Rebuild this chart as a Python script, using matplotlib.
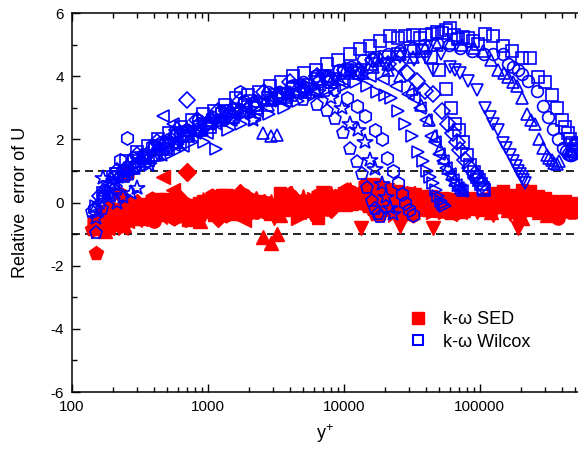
import matplotlib
matplotlib.use("Agg")
import matplotlib.pyplot as plt
from matplotlib.lines import Line2D
from matplotlib.ticker import LogLocator, NullFormatter, MultipleLocator, FuncFormatter

plt.rcParams['font.family'] = ['Liberation Sans', 'DejaVu Sans']
plt.rcParams['axes.unicode_minus'] = False
plt.rcParams['mathtext.fontset'] = 'custom'
plt.rcParams['mathtext.rm'] = 'Liberation Sans'
plt.rcParams['mathtext.default'] = 'regular'

# ---- data: y+ positions, relative error (Wilcox k-w, SED k-w) per case ----
pent_yp = [140, 150, 165, 185, 210, 245, 290, 350, 430, 530, 660, 830, 1050, 1350, 1750, 2300, 3000, 3900, 5000, 6300,
           7500, 8600, 9800, 11100, 12500, 13600, 14800, 16100, 16900, 17700, 18400]
pent_wilcox = [-0.3, -0.95, -0.2, 0.3, 0.45, 0.8, 1.1, 1.4, 1.65, 1.9, 2.1, 2.3, 2.5, 2.7, 2.9, 3.05, 3.2, 3.3, 3.25, 3.1,
               2.9, 2.65, 2.2, 1.7, 1.27, 0.9, 0.45, 0.06, -0.2, -0.35, -0.47]
pent_sed = [-0.85, -1.6, -0.7, -0.4, -0.55, -0.6, -0.3, -0.5, -0.2, -0.4, -0.1, -0.3, -0.2, 0.0, -0.35, -0.1, -0.25, 0.05, -0.2, 0.1,
            -0.05, 0.2, 0.1, 0.3, 0.15, 0.0, -0.1, -0.2, -0.35, -0.25, -0.4]

star_yp = [150, 169, 190, 214, 237, 270, 300, 370, 460, 580, 730, 920, 1160, 1460, 1850, 2140, 2900, 3800, 5000, 6500,
           8000, 9700, 11100, 12700, 14300, 15500, 16900, 19000, 20300, 21800, 22900]
star_wilcox = [-0.5, 0.76, 0.2, -0.03, 0.16, 0.3, 0.47, 1.2, 1.5, 1.8, 2.1, 2.3, 2.5, 2.6, 2.8, 2.6, 3.2, 3.4, 3.5, 3.5,
               3.3, 3.0, 2.5, 2.3, 1.9, 1.33, 1.07, 0.6, 0.16, -0.16, -0.35]
star_sed = [-0.9, -0.6, -0.75, -0.45, -0.8, -0.3, -0.55, -0.2, -0.45, -0.15, -0.35, 0.05, -0.25, -0.1, 0.1, -0.3, 0.0, -0.2, 0.15, -0.05,
            0.25, 0.05, 0.35, 0.2, 0.1, 0.3, 0.0, -0.15, -0.3, -0.2, -0.4]

hex_yp = [145, 170, 200, 225, 254, 290, 340, 385, 460, 560, 690, 860, 1080, 1350, 1720, 2200, 2900, 3800, 5000, 6500,
          8400, 10500, 12500, 14300, 16900, 19000, 20700, 22900, 24900, 26700, 28100, 30000, 32000]
hex_wilcox = [-0.2, 0.2, 0.6, 1.33, 2.05, 1.2, 1.4, 1.8, 1.9, 2.1, 2.3, 2.5, 2.7, 2.9, 3.5, 3.1, 3.3, 3.5, 3.7, 3.8,
              3.6, 3.3, 3.07, 2.75, 2.3, 2.0, 1.42, 1.0, 0.63, 0.28, -0.03, -0.25, -0.4]
hex_sed = [-0.6, -0.3, -0.5, 0.28, 0.9, -0.2, -0.45, 0.1, -0.3, -0.5, -0.05, -0.25, 0.2, -0.4, -0.1, 0.05, -0.3, 0.1, -0.15, 0.25,
           0.0, 0.4, 0.2, 0.55, 0.1, 0.3, 0.0, -0.1, -0.25, -0.15, -0.35, -0.2, -0.4]

rtri_yp = [150, 175, 205, 245, 290, 350, 420, 510, 620, 760, 930, 1140, 1400, 1750, 2200, 2800, 3600, 4600, 6000, 7800,
           10000, 12300, 14800, 17500, 20000, 22200, 25000, 28100, 31600, 35000, 38000, 40700, 43000, 45100, 47300, 49100,
           51500, 53500, 55300]
rtri_wilcox = [-0.1, 0.2, 0.5, 0.8, 1.0, 1.2, 1.4, 1.5, 1.7, 1.9, 1.9, 1.7, 2.3, 2.5, 2.6, 2.8, 3.0, 3.2, 3.4, 3.6,
               3.7, 3.8, 3.7, 3.5, 3.4, 3.3, 2.9, 2.5, 2.1, 1.6, 1.3, 1.0, 0.8, 0.63, 0.4, 0.2, 0.06, -0.05, -0.1]
rtri_sed = [-0.7, -0.4, -0.6, -0.2, -0.5, -0.3, 0.0, -0.35, -0.15, -0.55, -0.2, 0.05, -0.3, -0.1, 0.15, -0.25, 0.0, -0.5, 0.1, -0.1,
            0.2, 0.35, 0.05, 0.25, 0.55, 0.15, 0.3, 0.0, 0.2, -0.1, 0.1, -0.2, 0.05, -0.3, -0.1, -0.25, 0.0, -0.15, -0.3]

ltri_yp = [155, 180, 215, 255, 305, 365, 440, 470, 550, 660, 800, 980, 1200, 1480, 1850, 2300, 2900, 3700, 4700, 6000,
           7600, 9700, 12300, 15500, 19500, 24000, 29500, 33000, 36200, 40000, 43500, 46700, 50000, 53400, 56500, 60100,
           63500, 66500, 68900, 71500, 73800]
ltri_wilcox = [0.0, 0.3, 0.8, 0.9, 1.3, 1.3, 1.7, 2.75, 2.5, 1.8, 2.2, 2.2, 2.6, 2.6, 3.0, 2.9, 3.3, 3.2, 3.6, 3.5,
               3.9, 3.8, 4.1, 4.0, 3.9, 3.7, 3.45, 3.3, 3.0, 2.6, 2.1, 1.9, 1.55, 1.3, 1.1, 0.9, 0.7, 0.55, 0.45, 0.4, 0.35]
ltri_sed = [-0.5, -0.8, -0.3, -0.6, -0.1, -0.4, -0.2, 0.8, 0.4, -0.3, -0.05, -0.35, 0.1, -0.2, -0.55, 0.0, -0.15, 0.3, -0.3, 0.05,
            -0.1, 0.25, 0.1, 0.4, 0.2, 0.0, 0.3, 0.1, -0.1, 0.15, -0.2, 0.0, -0.3, 0.1, -0.15, -0.35, -0.05, -0.2, 0.0, -0.3, -0.1]

utri1_yp = [150, 175, 205, 240, 285, 340, 410, 490, 590, 720, 880, 1080, 1330, 1650, 2050, 2550, 2900, 3200, 4000, 5000,
            6300, 8000, 10200, 13000, 16500, 21000, 26000, 31500, 37000, 42000, 46500, 50500, 54500, 58500, 62500, 66000,
            69500, 72500, 75500]
utri1_wilcox = [-0.1, 0.4, 0.6, 1.1, 1.1, 1.5, 1.5, 1.9, 1.9, 2.3, 2.3, 2.7, 2.7, 3.0, 2.9, 2.2, 2.1, 2.15, 3.5, 3.5,
                3.9, 3.8, 4.2, 4.1, 4.3, 4.2, 4.0, 3.6, 3.1, 2.6, 2.1, 1.7, 1.42, 1.1, 0.9, 0.7, 0.55, 0.45, 0.38]
utri1_sed = [-0.6, -0.9, -0.4, -0.7, -0.2, -0.5, -0.3, 0.05, -0.4, -0.15, -0.6, -0.1, 0.2, -0.3, -0.2, -1.1, -1.27, -1.0, -0.2, 0.05,
             -0.3, 0.1, -0.05, 0.3, 0.1, 0.45, 0.2, -0.1, 0.15, -0.2, 0.05, -0.25, 0.1, -0.1, -0.3, 0.0, -0.2, -0.1, -0.25]

dia_yp = [160, 185, 215, 255, 300, 355, 420, 500, 590, 700, 830, 990, 1180, 1420, 1720, 2100, 2600, 3200, 4000, 5000,
          6300, 8000, 10200, 13000, 16500, 21000, 25000, 29000, 34400, 39400, 45100, 52600, 58000, 63300, 67500, 71300,
          77600, 84200, 91500, 96000, 100000, 103000]
dia_wilcox = [0.2, 0.5, 1.0, 1.1, 1.5, 1.5, 1.9, 1.9, 2.3, 3.23, 2.6, 2.5, 2.9, 2.8, 3.2, 3.1, 3.5, 3.3, 3.8, 3.6,
              4.0, 3.9, 4.2, 4.2, 4.5, 4.4, 4.4, 4.1, 3.86, 3.54, 3.45, 2.9, 2.5, 2.2, 1.9, 1.65, 1.33, 1.1, 0.9, 0.75, 0.65, 0.55]
dia_sed = [-0.5, -0.2, -0.6, -0.35, 0.0, -0.45, -0.1, -0.3, 0.2, 0.95, -0.2, 0.05, -0.5, -0.1, 0.3, -0.25, 0.0, -0.15, 0.25, -0.05,
           0.15, -0.2, 0.3, 0.1, 0.5, 0.2, 0.05, 0.25, -0.05, 0.1, -0.15, 0.05, -0.25, 0.0, -0.1, 0.1, -0.2, -0.05, 0.05, -0.15, -0.05, -0.1]

sq1_yp = [170, 200, 240, 285, 340, 410, 490, 590, 710, 860, 1040, 1260, 1530, 1860, 2270, 2780, 3400, 4200, 5200, 6500,
          8100, 10100, 12700, 16000, 20000, 25000, 31000, 37500, 44000, 50000, 56000, 61000, 65500, 70000, 75000, 80000,
          85000, 90000, 95000, 99000, 102000, 105000, 108000]
sq1_wilcox = [0.3, 0.8, 0.9, 1.3, 1.3, 1.7, 1.7, 2.1, 2.1, 2.4, 2.4, 2.8, 2.7, 3.1, 3.0, 3.3, 3.3, 3.6, 3.5, 3.9,
              3.8, 4.1, 4.1, 4.4, 4.6, 4.7, 4.8, 4.8, 4.6, 4.2, 3.6, 3.0, 2.5, 2.28, 1.9, 1.5, 1.2, 0.95, 0.8, 0.7, 0.6, 0.47, 0.38]
sq1_sed = [-0.4, -0.7, -0.2, -0.5, -0.05, -0.3, 0.1, -0.25, -0.55, 0.0, -0.2, 0.25, -0.35, -0.1, 0.05, -0.3, 0.3, -0.15, 0.0, -0.5,
           0.1, 0.3, 0.15, 0.6, 0.25, 0.35, 0.1, 0.0, 0.2, -0.1, 0.05, -0.2, 0.1, -0.3, 0.0, -0.15, 0.1, -0.2, -0.05, 0.0, -0.2, -0.1, -0.25]

dtri_yp = [180, 210, 250, 300, 360, 430, 520, 630, 760, 920, 1120, 1360, 1660, 2030, 2480, 3050, 3750, 4600, 5700, 7000,
           8700, 10800, 13400, 16700, 20800, 26000, 33000, 40000, 45100, 52000, 60100, 66000, 71300, 82000, 95000, 109000,
           118000, 125000, 136000, 147000, 157000, 166000, 175000, 183000, 190000, 197000, 204000, 209000, 214000]
dtri_wilcox = [0.5, 0.9, 1.0, 1.4, 1.4, 1.8, 1.8, 2.2, 2.2, 2.5, 2.5, 2.9, 2.8, 3.2, 3.1, 3.4, 3.4, 3.7, 3.6, 4.0,
               3.9, 4.2, 4.2, 4.5, 4.4, 4.6, 4.5, 4.56, 4.2, 4.7, 4.3, 4.2, 4.1, 3.86, 3.55, 3.0, 2.7, 2.5, 2.3, 1.87,
               1.74, 1.5, 1.3, 1.15, 1.0, 0.9, 0.8, 0.7, 0.63]
dtri_sed = [-0.3, -0.6, -0.1, -0.4, -0.2, -0.5, 0.0, -0.3, -0.1, -0.45, -0.15, 0.2, -0.3, 0.0, -0.2, -0.5, 0.1, -0.1, -0.35, 0.3,
            0.0, 0.3, -0.8, 0.2, 0.4, -0.73, 0.25, 0.0, -0.82, 0.1, -0.2, 0.05, -0.15, 0.1, -0.3, 0.0, -0.2, -0.4, -0.1, -0.25,
            0.0, -0.35, -0.15, -0.5, -0.8, -0.3, -0.1, -0.4, -0.2]

utri2_yp = [190, 225, 270, 320, 390, 470, 570, 690, 840, 1020, 1240, 1510, 1840, 2250, 2750, 3360, 4100, 5000, 6100, 7500,
            9200, 11300, 13900, 17100, 21000, 26000, 32000, 39500, 48500, 60000, 74000, 90000, 105000, 120000, 136000,
            150000, 161000, 175000, 187000, 205000, 222000, 238000, 254000, 272000, 290000, 310000, 325000, 338000,
            352000, 368000, 382000]
utri2_wilcox = [0.6, 1.0, 1.1, 1.5, 1.5, 1.9, 1.9, 2.3, 2.3, 2.6, 2.6, 2.9, 2.9, 3.2, 3.1, 3.5, 3.4, 3.7, 3.6, 4.0,
                3.9, 4.2, 4.1, 4.5, 4.4, 4.7, 4.6, 4.9, 5.0, 5.06, 5.0, 4.9, 4.8, 4.5, 4.18, 4.1, 3.96, 3.8, 3.7, 3.32,
                2.8, 2.6, 2.5, 2.0, 1.74, 1.5, 1.4, 1.35, 1.25, 1.23, 1.3]
utri2_sed = [-0.45, -0.15, -0.5, -0.25, 0.05, -0.35, -0.1, -0.4, 0.0, -0.2, 0.1, -0.3, -0.05, 0.15, -0.2, -0.4, 0.0, -0.25, 0.1, -0.1,
             0.2, 0.0, 0.5, 0.15, 0.3, 0.05, 0.2, -0.1, 0.1, -0.05, -0.2, 0.0, -0.15, -0.3, 0.05, -0.1, -0.25, 0.0, -0.2, -0.5,
             -0.1, -0.2, 0.0, -0.3, -0.15, -0.4, -0.2, -0.05, -0.3, -0.15, -0.25]

circ_yp = [200, 235, 280, 335, 400, 480, 580, 700, 850, 1030, 1250, 1520, 1850, 2250, 2750, 3350, 4100, 5000, 6100, 7500,
           9200, 11300, 13900, 17100, 21000, 26000, 32000, 39000, 48000, 59000, 72000, 88000, 107000, 125000, 147000,
           162000, 175000, 190000, 204000, 227000, 264000, 290000, 316000, 343000, 374000, 407000, 430000, 444000,
           458000, 470000, 482000, 492000]
circ_wilcox = [0.8, 1.0, 1.4, 1.5, 1.8, 1.9, 2.2, 2.3, 2.6, 2.6, 2.9, 3.0, 3.2, 3.2, 3.5, 3.5, 3.7, 3.8, 4.0, 4.0,
               4.2, 4.3, 4.5, 4.6, 4.7, 4.8, 4.9, 5.0, 5.06, 5.0, 4.9, 4.8, 4.7, 4.7, 4.7, 4.4, 4.3, 4.2, 4.08, 3.86,
               3.54, 3.07, 2.7, 2.34, 2.0, 1.74, 1.64, 1.55, 1.5, 1.5, 1.55, 1.6]
circ_sed = [-0.2, -0.5, -0.05, -0.3, -0.6, -0.15, 0.2, -0.35, -0.1, 0.05, -0.35, -0.05, 0.25, -0.3, 0.0, -0.15, 0.2, -0.05, 0.05, -0.2,
            0.1, 0.25, 0.0, 0.3, 0.1, 0.2, 0.0, -0.1, 0.1, -0.2, 0.0, -0.1, 0.1, -0.15, 0.0, -0.25, -0.1, 0.05, -0.2, -0.05,
            -0.3, -0.1, -0.2, 0.0, -0.5, -0.15, -0.25, -0.1, -0.3, -0.2, -0.15, -0.3]

sq2_yp = [210, 250, 300, 360, 430, 520, 630, 760, 920, 1110, 1340, 1620, 1960, 2370, 2870, 3470, 4200, 5100, 6200, 7500,
          9100, 11000, 13100, 15500, 18400, 21800, 25000, 28100, 32000, 36200, 40000, 44400, 48500, 52600, 56000, 60100,
          64500, 68900, 75000, 81600, 89000, 96700, 109000, 125000, 147000, 172000, 204000, 233000, 267000, 300000,
          338000, 370000, 401000, 425000, 444000, 460000, 475000, 483000, 495000, 510000, 525000]
sq2_wilcox = [0.9, 1.3, 1.6, 1.8, 2.0, 2.2, 2.4, 2.6, 2.8, 2.9, 3.1, 3.3, 3.4, 3.5, 3.7, 3.8, 4.0, 4.1, 4.2, 4.4,
              4.5, 4.7, 4.85, 4.97, 5.1, 5.28, 5.2, 5.28, 5.3, 5.22, 5.3, 5.35, 5.4, 5.38, 5.45, 5.54, 5.3, 5.19, 5.25, 5.22,
              5.1, 5.03, 5.35, 5.28, 4.97, 4.8, 4.59, 4.56, 3.96, 3.8, 3.39, 3.0, 2.6, 2.4, 2.2, 2.0, 1.87, 1.64, 1.7, 1.8, 1.85]
sq2_sed = [-0.3, 0.0, -0.4, -0.15, 0.1, -0.3, -0.05, -0.25, 0.05, -0.4, -0.1, 0.15, -0.2, 0.0, -0.35, 0.1, -0.15, 0.05, -0.3, 0.2,
           0.0, 0.3, 0.1, 0.4, 0.2, 0.35, 0.15, 0.3, 0.05, 0.2, -0.05, 0.1, -0.15, 0.05, -0.1, 0.0, 0.1, -0.2, 0.05, -0.1,
           0.0, -0.15, 0.05, 0.3, 0.35, 0.25, 0.4, 0.35, 0.2, 0.15, 0.05, 0.0, -0.1, 0.05, -0.05, -0.15, 0.0, -0.1, -0.2, -0.05, -0.15]

cases = [
    ('p', pent_yp, pent_wilcox, pent_sed),
    ('*', star_yp, star_wilcox, star_sed),
    ('h', hex_yp, hex_wilcox, hex_sed),
    ('>', rtri_yp, rtri_wilcox, rtri_sed),
    ('<', ltri_yp, ltri_wilcox, ltri_sed),
    ('^', utri1_yp, utri1_wilcox, utri1_sed),
    ('D', dia_yp, dia_wilcox, dia_sed),
    ('s', sq1_yp, sq1_wilcox, sq1_sed),
    ('v', dtri_yp, dtri_wilcox, dtri_sed),
    ('^', utri2_yp, utri2_wilcox, utri2_sed),
    ('o', circ_yp, circ_wilcox, circ_sed),
    ('s', sq2_yp, sq2_wilcox, sq2_sed),
]
msize = {'p': 9.5, '*': 11.5, 'h': 9.5, '>': 9, '<': 9, '^': 9, 'D': 8, 's': 8, 'v': 9, 'o': 8.5}

fig = plt.figure(figsize=(5.78, 4.5), dpi=100)
ax = fig.add_axes([72/578, 58/450, 506/578, 379/450])

dash = (0, (4.8, 3))
ax.axhline(1, color='black', lw=1.2, ls=dash)
ax.axhline(-1, color='black', lw=1.2, ls=dash)

for m, yp, wil, sed in cases:
    ax.plot(yp, sed, ls='none', marker=m, ms=msize[m] * 1.12, mfc='red', mec='red', mew=1.0)
for m, yp, wil, sed in cases:
    ax.plot(yp, wil, ls='none', marker=m, ms=msize[m], mfc='none', mec='blue', mew=1.2)

ax.set_xscale('log')
ax.set_xlim(100, 5.27e5)
ax.set_ylim(-6, 6)
ax.xaxis.set_major_locator(LogLocator(base=10))
ax.xaxis.set_minor_locator(LogLocator(base=10, subs=range(2, 10)))
ax.xaxis.set_minor_formatter(NullFormatter())
ax.xaxis.set_major_formatter(FuncFormatter(lambda v, p: f"{int(round(v))}"))
ax.yaxis.set_major_locator(MultipleLocator(2))
ax.yaxis.set_minor_locator(MultipleLocator(1))

ax.tick_params(which='both', direction='in', top=True, right=False, labelsize=11, width=1)
ax.tick_params(which='major', length=6, pad=6)
ax.tick_params(which='minor', length=3.5)
ax.spines['right'].set_visible(False)
for s in ('left', 'bottom', 'top'):
    ax.spines[s].set_linewidth(1.1)

ax.set_xlabel('y$^{+}$', fontsize=13, labelpad=6)
ax.set_ylabel('Relative  error of U', fontsize=13, labelpad=15)

handles = [Line2D([], [], ls='none', marker='s', ms=8, mfc='red', mec='red'),
           Line2D([], [], ls='none', marker='s', ms=7, mfc='none', mec='blue', mew=1.5)]
ax.legend(handles, ['k-ω SED', 'k-ω Wilcox'], loc='upper left', bbox_to_anchor=(0.648, 0.237),
          frameon=False, fontsize=13, handlelength=1.0, handletextpad=0.9, labelspacing=0.3, borderpad=0)

fig.savefig('out.png', dpi=100)
